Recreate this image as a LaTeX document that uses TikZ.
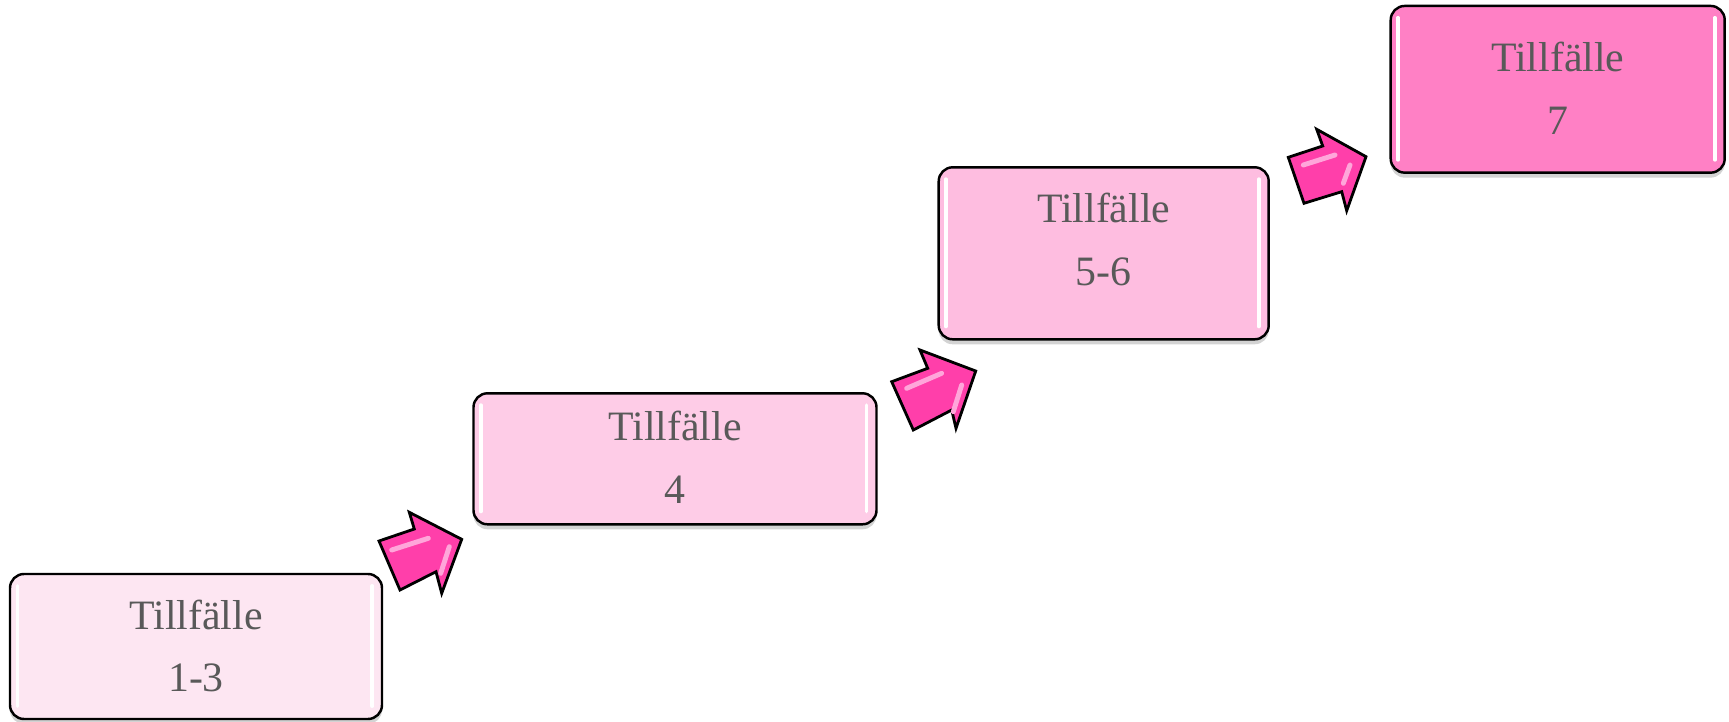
\documentclass[tikz,border=0pt]{standalone}
\usepackage{fontspec}
\setmainfont{Liberation Serif}
\usepackage{tikz}
\usetikzlibrary{shadows,calc}
\definecolor{grigio}{HTML}{595959}
\definecolor{rosa1}{HTML}{FDE6F2}
\definecolor{rosa2}{HTML}{FECCE7}
\definecolor{rosa3}{HTML}{FEBDE0}
\definecolor{rosa4}{HTML}{FF80C5}
\definecolor{fucsia}{HTML}{FF3FAA}
\definecolor{lucido}{HTML}{FFA6DA}

\begin{document}
\begin{tikzpicture}[
		box/.style = {draw, line width=0.7pt, rounded corners=0.14cm, inner sep=0pt, drop shadow={shadow xshift=0pt, shadow yshift=-0.05cm, opacity=0.35}},
		testo/.style = {text=grigio, align=center, inner sep=0pt, anchor=base, font=\fontsize{11.9}{17.8}\selectfont},
		riflesso/.style = {white, line width=1pt, line cap=round},
		freccia/.style = {draw, fill=fucsia, line width=0.8pt, line join=miter},
		luce/.style = {lucido, line width=1.4pt, line cap=round}
		]
		\useasboundingbox (0,0) rectangle (17.29,7.21);
		%RIQUADRI
		\node[box, fill=rosa1, minimum width=3.72cm, minimum height=1.45cm] (@1) at (1.96,0.745) {};
		\node[box, fill=rosa2, minimum width=4.03cm, minimum height=1.31cm] (@2) at (6.75,2.622) {};
		\node[box, fill=rosa3, minimum width=3.30cm, minimum height=1.72cm] (@3) at (11.037,4.677) {};
		\node[box, fill=rosa4, minimum width=3.34cm, minimum height=1.667cm] (@4) at (15.577,6.317) {};
		%RIFLESSI
		\draw[riflesso] ($(@1.south west)+(0.085,0.14)$) -- ($(@1.north west)+(0.085,-0.13)$);
		\draw[riflesso] ($(@1.south east)+(-0.11,0.14)$) -- ($(@1.north east)+(-0.11,-0.13)$);
		\draw[riflesso] ($(@2.south west)+(0.085,0.14)$) -- ($(@2.north west)+(0.085,-0.13)$);
		\draw[riflesso] ($(@2.south east)+(-0.11,0.14)$) -- ($(@2.north east)+(-0.11,-0.13)$);
		\draw[riflesso] ($(@3.south west)+(0.085,0.14)$) -- ($(@3.north west)+(0.085,-0.13)$);
		\draw[riflesso] ($(@3.south east)+(-0.11,0.14)$) -- ($(@3.north east)+(-0.11,-0.13)$);
		\draw[riflesso] ($(@4.south west)+(0.085,0.14)$) -- ($(@4.north west)+(0.085,-0.13)$);
		\draw[riflesso] ($(@4.south east)+(-0.11,0.14)$) -- ($(@4.north east)+(-0.11,-0.13)$);
		%TESTI
		\node[testo] (@t1) at (1.96,0.293) {Tillfälle\\1-3};
		\node[testo] (@t2) at (6.75,2.177) {Tillfälle\\4};
		\node[testo] (@t3) at (11.037,4.36) {Tillfälle\\5-6};
		\node[testo] (@t4) at (15.577,5.867) {Tillfälle\\7};
		%FRECCE
		\draw[freccia] (3.79,1.80) -- (4.143,1.92) -- (4.093,2.087) -- (4.617,1.817) -- (4.417,1.277) -- (4.36,1.493) -- (4.00,1.31) -- cycle;
		\draw[luce] (3.917,1.71) -- (4.283,1.827);
		\draw[luce] (4.407,1.477) -- (4.493,1.743);
		\draw[freccia] (8.917,3.393) -- (9.277,3.527) -- (9.20,3.71) -- (9.757,3.50) -- (9.56,2.927) -- (9.517,3.11) -- (9.133,2.91) -- cycle;
		\draw[luce] (9.067,3.327) -- (9.417,3.477);
		\draw[luce] (9.533,3.093) -- (9.617,3.36);
		\draw[freccia] (12.883,5.637) -- (13.227,5.75) -- (13.167,5.917) -- (13.66,5.643) -- (13.467,5.103) -- (13.417,5.293) -- (13.04,5.177) -- cycle;
		\draw[luce] (13.033,5.56) -- (13.35,5.66);
		\draw[luce] (13.433,5.377) -- (13.50,5.56);
	\end{tikzpicture}
\end{document}
